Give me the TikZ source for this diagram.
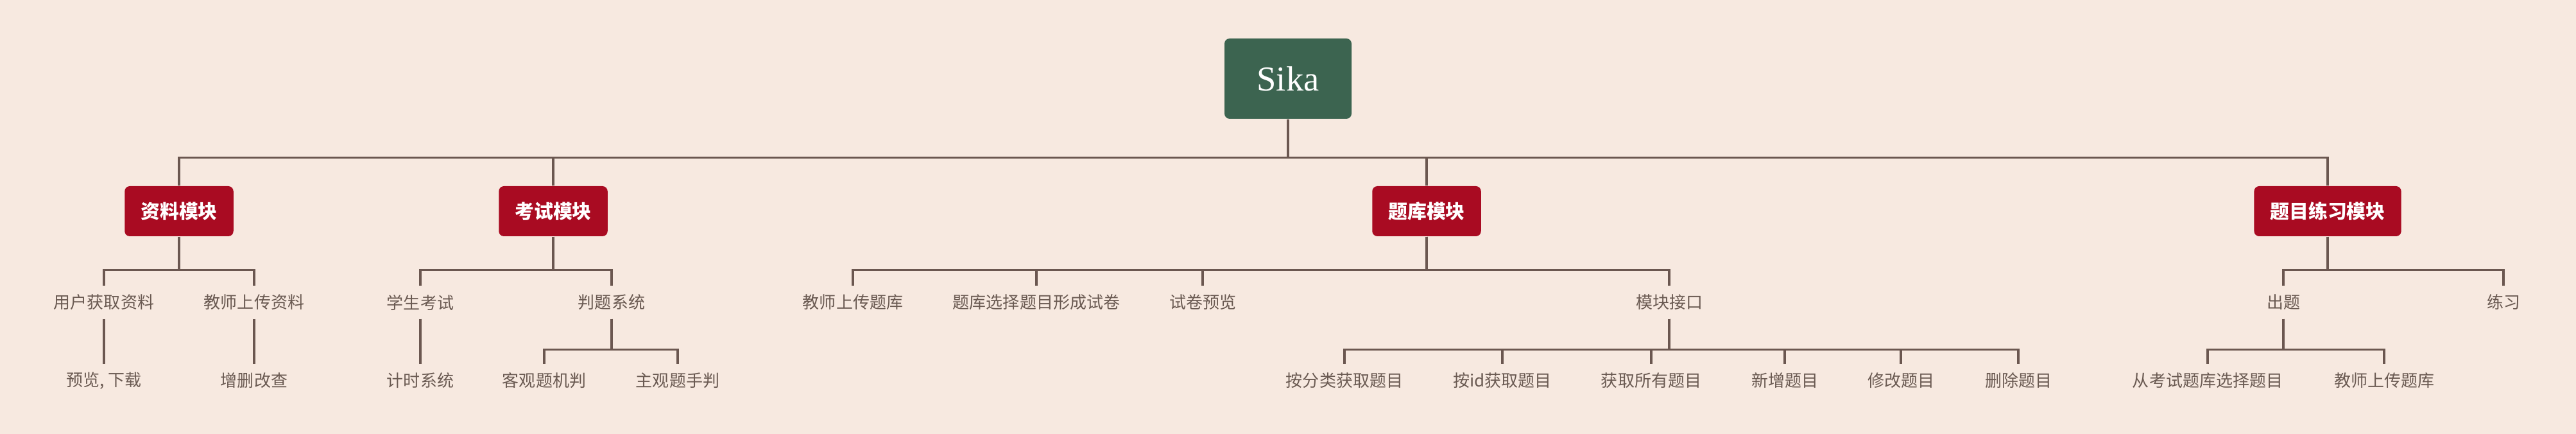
\documentclass[tikz,border=0pt]{standalone}
\usepackage{fontspec}
\newfontfamily\cjk{Noto Sans CJK SC}
\newfontfamily\rootfont{Liberation Serif}
\usetikzlibrary{positioning}
\definecolor{bgpeach}{HTML}{F7E9E0}
\definecolor{rootgreen}{HTML}{3C6450}
\definecolor{modred}{HTML}{A90B22}
\definecolor{linebrown}{HTML}{6B5750}
\definecolor{leafgray}{HTML}{6A5A52}

\begin{document}
\begin{tikzpicture}[line join=miter,
  root/.style={fill=rootgreen, text=white, rounded corners=0.08cm, minimum width=1.98cm, minimum height=1.25cm, font=\rootfont\fontsize{15.5}{18}\selectfont},
  module/.style={fill=modred, text=white, rounded corners=0.08cm, inner xsep=0.25cm, inner ysep=0pt, minimum height=0.78cm, font=\cjk\bfseries\fontsize{8.5}{10}\selectfont},
  leaf/.style={text=leafgray, inner sep=0pt, minimum height=0.5cm, font=\cjk\fontsize{7.4}{9}\selectfont},
  link/.style={draw=linebrown, line width=0.033cm}]

\fill[bgpeach] (0,0) rectangle (40.14,-6.76);

\node[root] (sika) at (20.07,-1.225) {Sika};

\node[module] (ziliao) at (2.79,-3.29) {资料模块};
\node[module] (kaoshi) at (8.62,-3.29) {考试模块};
\node[module] (tiku) at (22.23,-3.29) {题库模块};
\node[module] (lianxi) at (36.27,-3.29) {题目练习模块};

\node[leaf] (zl1) at (1.62,-4.71) {用户获取资料};
\node[leaf] (zl2) at (3.96,-4.71) {教师上传资料};
\node[leaf] (ks1) at (6.55,-4.71) {学生考试};
\node[leaf] (ks2) at (9.53,-4.71) {判题系统};
\node[leaf] (tk1) at (13.29,-4.71) {教师上传题库};
\node[leaf] (tk2) at (16.15,-4.71) {题库选择题目形成试卷};
\node[leaf] (tk3) at (18.74,-4.71) {试卷预览};
\node[leaf] (tk4) at (26.01,-4.71) {模块接口};
\node[leaf] (lx1) at (35.58,-4.71) {出题};
\node[leaf] (lx2) at (39.01,-4.71) {练习};

\node[leaf] (zl1a) at (1.62,-5.93) {预览, 下载};
\node[leaf] (zl2a) at (3.96,-5.93) {增删改查};
\node[leaf] (ks1a) at (6.55,-5.93) {计时系统};
\node[leaf] (ks2a) at (8.48,-5.93) {客观题机判};
\node[leaf] (ks2b) at (10.56,-5.93) {主观题手判};
\node[leaf] (tk4a) at (20.95,-5.93) {按分类获取题目};
\node[leaf] (tk4b) at (23.41,-5.93) {按id获取题目};
\node[leaf] (tk4c) at (25.73,-5.93) {获取所有题目};
\node[leaf] (tk4d) at (27.81,-5.93) {新增题目};
\node[leaf] (tk4e) at (29.62,-5.93) {修改题目};
\node[leaf] (tk4f) at (31.45,-5.93) {删除题目};
\node[leaf] (lx1a) at (34.40,-5.93) {从考试题库选择题目};
\node[leaf] (lx1b) at (37.15,-5.93) {教师上传题库};

\draw[link] (sika.south) -- ++(0,-0.6) -| (ziliao.north);
\draw[link] (sika.south) -- ++(0,-0.6) -| (kaoshi.north);
\draw[link] (sika.south) -- ++(0,-0.6) -| (tiku.north);
\draw[link] (sika.south) -- ++(0,-0.6) -| (lianxi.north);

\draw[link] (ziliao.south) -- ++(0,-0.52) -| (zl1.north);
\draw[link] (ziliao.south) -- ++(0,-0.52) -| (zl2.north);
\draw[link] (kaoshi.south) -- ++(0,-0.52) -| (ks1.north);
\draw[link] (kaoshi.south) -- ++(0,-0.52) -| (ks2.north);
\draw[link] (tiku.south) -- ++(0,-0.52) -| (tk1.north);
\draw[link] (tiku.south) -- ++(0,-0.52) -| (tk2.north);
\draw[link] (tiku.south) -- ++(0,-0.52) -| (tk3.north);
\draw[link] (tiku.south) -- ++(0,-0.52) -| (tk4.north);
\draw[link] (lianxi.south) -- ++(0,-0.52) -| (lx1.north);
\draw[link] (lianxi.south) -- ++(0,-0.52) -| (lx2.north);

\draw[link] (zl1.south) -- (zl1a.north);
\draw[link] (zl2.south) -- (zl2a.north);
\draw[link] (ks1.south) -- (ks1a.north);
\draw[link] (ks2.south) -- ++(0,-0.48) -| (ks2a.north);
\draw[link] (ks2.south) -- ++(0,-0.48) -| (ks2b.north);
\draw[link] (tk4.south) -- ++(0,-0.48) -| (tk4a.north);
\draw[link] (tk4.south) -- ++(0,-0.48) -| (tk4b.north);
\draw[link] (tk4.south) -- ++(0,-0.48) -| (tk4c.north);
\draw[link] (tk4.south) -- ++(0,-0.48) -| (tk4d.north);
\draw[link] (tk4.south) -- ++(0,-0.48) -| (tk4e.north);
\draw[link] (tk4.south) -- ++(0,-0.48) -| (tk4f.north);
\draw[link] (lx1.south) -- ++(0,-0.48) -| (lx1a.north);
\draw[link] (lx1.south) -- ++(0,-0.48) -| (lx1b.north);

\end{tikzpicture}
\end{document}
